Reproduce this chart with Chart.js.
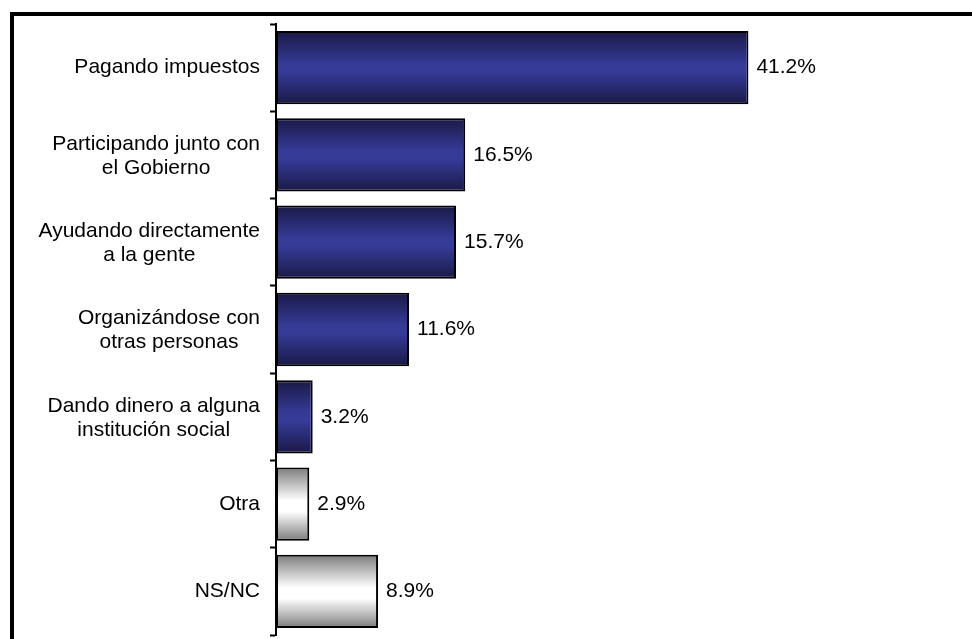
<!DOCTYPE html>
<html>
<head>
<meta charset="utf-8">
<script src="https://cdn.jsdelivr.net/npm/chart.js@4.4.0/dist/chart.umd.min.js"></script>
<style>
  html, body { margin: 0; padding: 0; background: #fff; }
  #wrap { position: relative; width: 972px; height: 639px; overflow: hidden; }
  #frame { position: absolute; left: 10px; top: 12px; width: 1200px; height: 900px;
           border-left: 4px solid #000; border-top: 4px solid #000; }
  canvas { position: absolute; left: 0; top: 0; }
</style>
</head>
<body>
<div id="wrap">
  <div id="frame"></div>
  <canvas id="chart" width="972" height="639"></canvas>
</div>
<script>
const categories = [
  ['Pagando impuestos'],
  ['Participando junto con', 'el Gobierno'],
  ['Ayudando directamente', 'a la gente'],
  ['Organizándose con', 'otras personas'],
  ['Dando dinero a alguna', 'institución social'],
  ['Otra'],
  ['NS/NC']
]
const values = [41.2, 16.5, 15.7, 11.6, 3.2, 2.9, 8.9]
const valueLabels = ['41.2%', '16.5%', '15.7%', '11.6%', '3.2%', '2.9%', '8.9%']
const barKind = ['blue', 'blue', 'blue', 'blue', 'blue', 'gray', 'gray']

const FONT = "21px 'Liberation Sans', Arial, sans-serif"
const BAR_PCT = 0.84

// vertical gradient for each bar, edges dark, middle light
function barFill(context) {
  const chart = context.chart
  if (!chart.chartArea) return '#2a2a70'
  const y = chart.scales.y
  const i = context.dataIndex
  const c = y.getPixelForValue(i)
  const h = (y.bottom - y.top) / categories.length * BAR_PCT
  const g = chart.ctx.createLinearGradient(0, c - h / 2, 0, c + h / 2)
  if (barKind[i] === 'gray') {
    g.addColorStop(0, '#7c7c7c')
    g.addColorStop(0.45, '#ffffff')
    g.addColorStop(0.6, '#ffffff')
    g.addColorStop(1, '#7c7c7c')
  } else {
    g.addColorStop(0, '#1a1946')
    g.addColorStop(0.45, '#363b98')
    g.addColorStop(0.55, '#363b98')
    g.addColorStop(1, '#1a1946')
  }
  return g
}

// category labels: block right aligned, lines centered inside the block
const categoryLabels = {
  id: 'categoryLabels',
  afterDraw(chart) {
    const ctx = chart.ctx
    const y = chart.scales.y
    const right = y.right - 6 - 10
    ctx.save()
    ctx.font = FONT
    ctx.fillStyle = '#000'
    ctx.textAlign = 'center'
    ctx.textBaseline = 'middle'
    categories.forEach((lines, i) => {
      const w = Math.max(...lines.map(l => ctx.measureText(l).width))
      const cy = y.getPixelForValue(i) + (lines.length > 1 ? 1 : 0)
      const lh = 24
      lines.forEach((l, k) => {
        ctx.fillText(l, right - w / 2, cy + (k - (lines.length - 1) / 2) * lh)
      })
    })
    ctx.restore()
  }
}

// value labels at the end of each bar
const valueLabelPlugin = {
  id: 'valueLabels',
  afterDatasetsDraw(chart) {
    const ctx = chart.ctx
    const meta = chart.getDatasetMeta(0)
    ctx.save()
    ctx.font = FONT
    ctx.fillStyle = '#000'
    ctx.textAlign = 'left'
    ctx.textBaseline = 'middle'
    meta.data.forEach((bar, i) => {
      ctx.fillText(valueLabels[i], bar.x + 8, bar.y)
    })
    ctx.restore()
  }
}

new Chart(document.getElementById('chart'), {
  type: 'bar',
  data: {
    labels: categories,
    datasets: [{
      data: values,
      backgroundColor: barFill,
      borderColor: '#000',
      borderWidth: 2,
      borderSkipped: false,
      barPercentage: BAR_PCT,
      categoryPercentage: 1
    }]
  },
  options: {
    indexAxis: 'y',
    responsive: false,
    animation: false,
    layout: { padding: { top: 24, bottom: 4, right: 8, left: 0 } },
    plugins: {
      legend: { display: false },
      tooltip: { enabled: false }
    },
    scales: {
      x: { display: false, min: 0, max: 60 },
      y: {
        grid: {
          offset: true,
          drawOnChartArea: false,
          drawTicks: true,
          tickLength: 6,
          tickWidth: 2,
          tickColor: '#000'
        },
        border: { display: true, color: '#000', width: 2 },
        ticks: { display: false },
        afterFit(scale) { scale.width = 276 }
      }
    }
  },
  plugins: [categoryLabels, valueLabelPlugin]
})
</script>
</body>
</html>
